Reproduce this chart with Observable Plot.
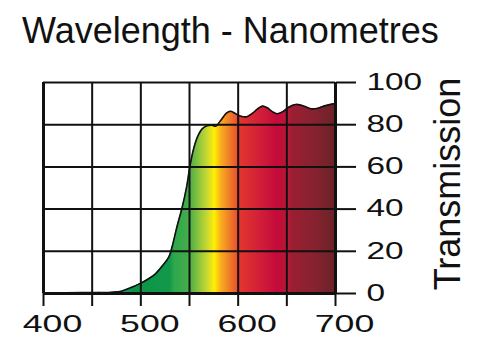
<!DOCTYPE html>
<html>
<head>
<meta charset="utf-8">
<script src="https://cdn.jsdelivr.net/npm/d3@7"></script>
<script src="https://cdn.jsdelivr.net/npm/@observablehq/plot@0.6"></script>
<style>
  html, body { margin: 0; padding: 0; background: #fff; }
  body { position: relative; width: 500px; height: 352px; overflow: hidden; }
  #title { height: 52px; box-sizing: border-box; padding: 13px 0 0 22px; font: 36px/36px "Liberation Sans", Arial, sans-serif; color: #111; white-space: nowrap; }
  #ytitle { position: absolute; left: 318px; top: 166px; width: 260px; height: 36px; text-align: center; font: 36px/36px "Liberation Sans", Arial, sans-serif; color: #111; white-space: nowrap; transform: rotate(-90deg); }
  svg { display: block; }
</style>
</head>
<body>
<div id="title">Wavelength - Nanometres</div>
<div id="chart"></div>
<div id="ytitle"></div>
<script>
// Transmission curve (wavelength nm, transmission %)
const wavelength = [400, 440, 470, 480, 490, 500, 508, 515, 522, 528.7, 532, 537, 542.5, 547, 550.3, 553.8, 558, 563, 568, 573, 577, 582, 588, 592, 597, 603, 609, 615, 620, 625, 630, 635, 640, 646, 652, 659, 665, 671, 676, 682, 688, 694, 700];
const transmission = [0.3, 0.4, 0.6, 1.1, 2.8, 4.9, 7, 9.3, 13, 17.2, 21.9, 31.4, 40.9, 50.4, 59.9, 67.8, 74, 78, 79.5, 79.8, 79.3, 82, 85.5, 86.4, 85.3, 84, 83.8, 85.5, 87.5, 88.8, 88, 86.2, 85.2, 86.2, 88.3, 89.6, 89.2, 88.2, 87.5, 87.8, 88.8, 89.5, 90];

// Spectrum colour stops (wavelength nm -> colour)
const stopWavelength = [400, 470, 482, 492, 530, 535, 550, 560, 570, 576, 582, 592, 598, 602, 625, 640, 652, 655, 680, 700];
const stopColor = ["#1a6fb0", "#1a6fb0", "#0f9a7a", "#0b9444", "#12984a", "#2ea84c", "#45ad4a", "#8cc43e", "#d2dc2e", "#fff000", "#f9b21e", "#ef7a28", "#ea5a2c", "#e2362e", "#d01c3a", "#c40a3a", "#b81838", "#9c1e32", "#862230", "#6a2226"];

const xGridTicks = [400, 450, 500, 550, 600, 650, 700];
const xLabelTicks = [400, 500, 600, 700];
const yTicks = [0, 20, 40, 60, 80, 100];
const yTitle = "Transmission";

document.getElementById("ytitle").textContent = yTitle;

const data = wavelength.map((w, i) => ({w, t: transmission[i]}));
const ink = "#111";

const chart = Plot.plot({
  width: 500,
  height: 300,
  marginLeft: 43,
  marginRight: 165,
  marginTop: 30,
  marginBottom: 59,
  style: {fontFamily: "'Liberation Sans', Arial, sans-serif", color: ink, background: "#fff"},
  x: {domain: [400, 700]},
  y: {domain: [0, 100]},
  marks: [
    Plot.areaY(data, {x: "w", y: "t", fill: "#0b9444", curve: "catmull-rom"}),
    Plot.gridX(xGridTicks, {stroke: ink, strokeOpacity: 1, strokeWidth: 2}),
    Plot.gridY(yTicks, {stroke: ink, strokeOpacity: 1, strokeWidth: 2}),
    Plot.lineY(data, {x: "w", y: "t", stroke: ink, strokeWidth: 1.6, curve: "catmull-rom"}),
    Plot.ruleX([400, 700], {stroke: ink, strokeWidth: 3}),
    Plot.ruleY([0], {stroke: ink, strokeWidth: 3}),
    Plot.axisX({ticks: xGridTicks, tickSize: 13, tickFormat: () => "", stroke: ink, strokeWidth: 2, label: null}),
    Plot.axisX({ticks: xLabelTicks, tickSize: 0, tickPadding: 22, dx: 9, fontSize: 23, fill: ink, label: null, tickFormat: d => String(d)}),
    Plot.axisY({anchor: "right", ticks: yTicks, tickSize: 20, tickPadding: 11, fontSize: 23, stroke: ink, strokeWidth: 2, fill: ink, label: null})
  ]
});

document.getElementById("chart").appendChild(chart);

// Spectrum gradient for the area fill, positioned with the x scale
const xs = chart.scale("x");
const svg = d3.select(chart);
const grad = svg.insert("defs", ":first-child").append("linearGradient")
  .attr("id", "spec")
  .attr("gradientUnits", "userSpaceOnUse")
  .attr("x1", xs.apply(400)).attr("x2", xs.apply(700))
  .attr("y1", 0).attr("y2", 0);
stopWavelength.forEach((w, i) => {
  grad.append("stop").attr("offset", (w - 400) / 300).attr("stop-color", stopColor[i]);
});
svg.selectAll('g[aria-label="area"]').attr("fill", "url(#spec)");
svg.selectAll('g[aria-label="area"] path').attr("fill", "url(#spec)");

// Wide tick-label lettering as in the reference
svg.selectAll('g[aria-label="x-axis tick label"] text').each(function() {
  const t = this.getAttribute("transform") || "";
  this.setAttribute("transform", (t + " scale(1.55,1)").trim());
});
svg.selectAll('g[aria-label="y-axis tick label"] text').each(function() {
  const t = this.getAttribute("transform") || "";
  this.setAttribute("transform", (t + " scale(1.45,1)").trim());
});
</script>
</body>
</html>
